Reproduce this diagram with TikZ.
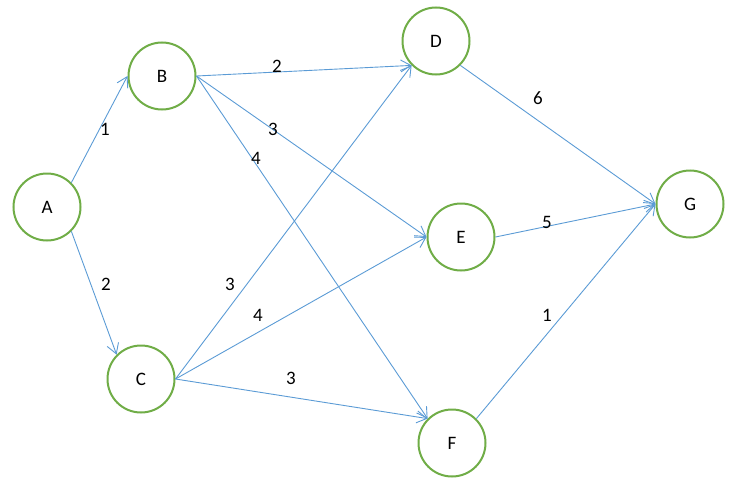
\documentclass[tikz,border=0pt]{standalone}
\usepackage{fontspec}
\setmainfont{Carlito}
\usepackage{tikz}
\usetikzlibrary{arrows.meta}
\definecolor{nodegreen}{HTML}{70AD47}
\definecolor{edgeblue}{HTML}{5B9BD5}
\tikzstyle{vertex} = [circle, draw=nodegreen, line width=2pt, fill=white, minimum size=67pt, inner sep=0pt, font=\fontsize{19}{22}\selectfont]
\tikzstyle{arrow} = [draw=edgeblue, line width=0.9pt, -{Straight Barb[length=10pt,width=12pt]}]
\tikzstyle{weight} = [inner sep=1pt, font=\fontsize{19}{22}\selectfont]

\begin{document}
\begin{tikzpicture}[x=1pt, y=-1pt]
    \useasboundingbox (0,0) rectangle (736,487);

\node[vertex] (A) at (47,207) {A};
\node[vertex] (B) at (162,76) {B};
\node[vertex] (C) at (141,379) {C};
\node[vertex] (D) at (436,41) {D};
\node[vertex] (E) at (461,237) {E};
\node[vertex] (F) at (452,443) {F};
\node[vertex] (G) at (690,204) {G};

    \draw[arrow] (A.north east) -- (B.west);
    \draw[arrow] (A.south east) -- (C.north west);
    \draw[arrow] (B.east) -- (D.south west);
    \draw[arrow] (B.east) -- (E.west);
    \draw[arrow] (B.east) -- (F.north west);
    \draw[arrow] (C.east) -- (D.south west);
    \draw[arrow] (C.east) -- (E.west);
    \draw[arrow] (C.east) -- (F.north west);
    \draw[arrow] (D.south east) -- (G.west);
    \draw[arrow] (E.east) -- (G.west);
    \draw[arrow] (F.north east) -- (G.west);

\node[weight] (wAB) at (105,129) {1};
\node[weight] (wAC) at (106,284) {2};
\node[weight] (wBD) at (277,66) {2};
\node[weight] (wBE) at (273,129) {3};
\node[weight] (wBF) at (256,158) {4};
\node[weight] (wCD) at (230,284) {3};
\node[weight] (wCE) at (258,315) {4};
\node[weight] (wCF) at (291,378) {3};
\node[weight] (wDG) at (538,98) {6};
\node[weight] (wEG) at (547,222) {5};
\node[weight] (wFG) at (547,315) {1};
\end{tikzpicture}
\end{document}
